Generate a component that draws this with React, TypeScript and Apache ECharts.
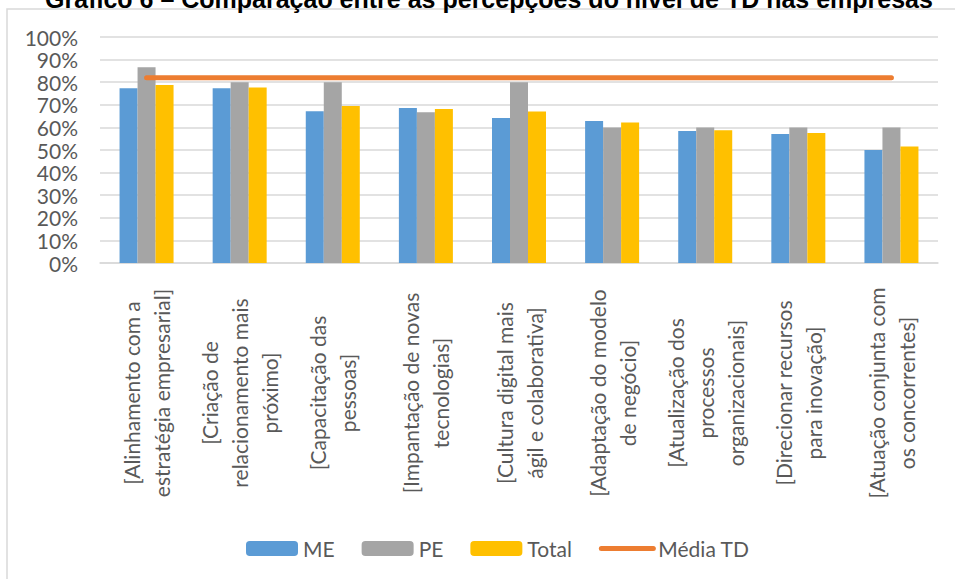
import React, { useEffect, useRef } from "react";
import * as echarts from "echarts";

const titleText = "Gráfico 6 – Comparação entre as percepções do nível de TD nas empresas";

const categories = [
  "[Alinhamento com a\nestratégia empresarial]",
  "[Criação de\nrelacionamento mais\npróximo]",
  "[Capacitação das\npessoas]",
  "[Impantação de novas\ntecnologias]",
  "[Cultura digital mais\nágil e colaborativa]",
  "[Adaptação do modelo\nde negócio]",
  "[Atualização dos\nprocessos\norganizacionais]",
  "[Direcionar recursos\npara inovação]",
  "[Atuação conjunta com\nos concorrentes]",
];

const meValues = [0.773, 0.773, 0.671, 0.686, 0.642, 0.628, 0.584, 0.571, 0.5];
const peValues = [0.866, 0.8, 0.8, 0.667, 0.8, 0.6, 0.6, 0.6, 0.6];
const totalValues = [0.788, 0.776, 0.695, 0.681, 0.67, 0.622, 0.587, 0.575, 0.516];
const mediaTDValues = [0.82, 0.82, 0.82, 0.82, 0.82, 0.82, 0.82, 0.82, 0.82];

const yTicks = { min: 0, max: 1, interval: 0.1 };

const FONT = "Lato";
const TEXT_COLOR = "#595959";
const GRID_COLOR = "#D9D9D9";

export default function App() {
  const ref = useRef<HTMLDivElement>(null);

  useEffect(() => {
    if (!ref.current) return;
    const chart = echarts.init(ref.current, null, { renderer: "svg" });
    chart.setOption({
      animation: false,
      backgroundColor: "#ffffff",
      textStyle: { fontFamily: FONT },
      graphic: [
        {
          type: "rect",
          z: -10,
          shape: { x: 7, y: 9, width: 1000, height: 700 },
          style: { fill: "none", stroke: GRID_COLOR, lineWidth: 1.5 },
        },
        {
          type: "text",
          x: 489,
          y: -1,
          style: {
            text: titleText,
            fill: "#000000",
            font: "bold 25px 'Liberation Sans'",
            align: "center",
            verticalAlign: "middle",
          },
        },
      ],
      grid: { left: 100, right: 17, top: 37, bottom: 316, containLabel: false },
      legend: {
        left: 241,
        top: 533,
        itemWidth: 52,
        itemHeight: 15,
        itemGap: 27,
        textStyle: { fontFamily: FONT, fontSize: 21, color: TEXT_COLOR },
        data: [
          { name: "ME" },
          { name: "PE" },
          { name: "Total" },
          {
            name: "Média TD",
            itemStyle: { opacity: 0 },
            lineStyle: { width: 5, cap: "round", color: "#ED7D31" },
          },
        ],
      },
      xAxis: {
        type: "category",
        data: categories,
        axisLine: { show: true, lineStyle: { color: GRID_COLOR, width: 1.5 } },
        axisTick: { show: false },
        axisLabel: {
          interval: 0,
          rotate: 90,
          margin: 17,
          color: TEXT_COLOR,
          fontFamily: FONT,
          fontSize: 21,
          formatter: (v: string) =>
            v
              .split("\n")
              .map((l) => `{c|${l}}`)
              .join("\n"),
          rich: {
            c: {
              width: 226,
              align: "center",
              lineHeight: 30,
              fontSize: 21,
              fontFamily: FONT,
              color: TEXT_COLOR,
            },
          },
        },
      },
      yAxis: {
        type: "value",
        min: yTicks.min,
        max: yTicks.max,
        interval: yTicks.interval,
        axisLine: { show: false },
        axisTick: { show: false },
        splitLine: { lineStyle: { color: GRID_COLOR, width: 1.5 } },
        axisLabel: {
          margin: 22,
          color: TEXT_COLOR,
          fontFamily: FONT,
          fontSize: 21,
          lineHeight: 21,
          formatter: (v: number) => `${Math.round(v * 100)}%`,
        },
      },
      series: [
        {
          name: "ME",
          type: "bar",
          data: meValues,
          barGap: "0%",
          barCategoryGap: "42%",
          itemStyle: { color: "#5B9BD5" },
        },
        {
          name: "PE",
          type: "bar",
          data: peValues,
          barGap: "0%",
          barCategoryGap: "42%",
          itemStyle: { color: "#A5A5A5" },
        },
        {
          name: "Total",
          type: "bar",
          data: totalValues,
          barGap: "0%",
          barCategoryGap: "42%",
          itemStyle: { color: "#FFC000" },
        },
        {
          name: "Média TD",
          type: "line",
          data: mediaTDValues,
          symbol: "none",
          z: 5,
          itemStyle: { color: "#ED7D31" },
          lineStyle: { color: "#ED7D31", width: 5, cap: "round" },
        },
      ],
    });
    return () => chart.dispose();
  }, []);

  return (
    <div
      ref={ref}
      style={{ position: "absolute", left: 0, top: 0, width: 955, height: 579 }}
    />
  );
}
